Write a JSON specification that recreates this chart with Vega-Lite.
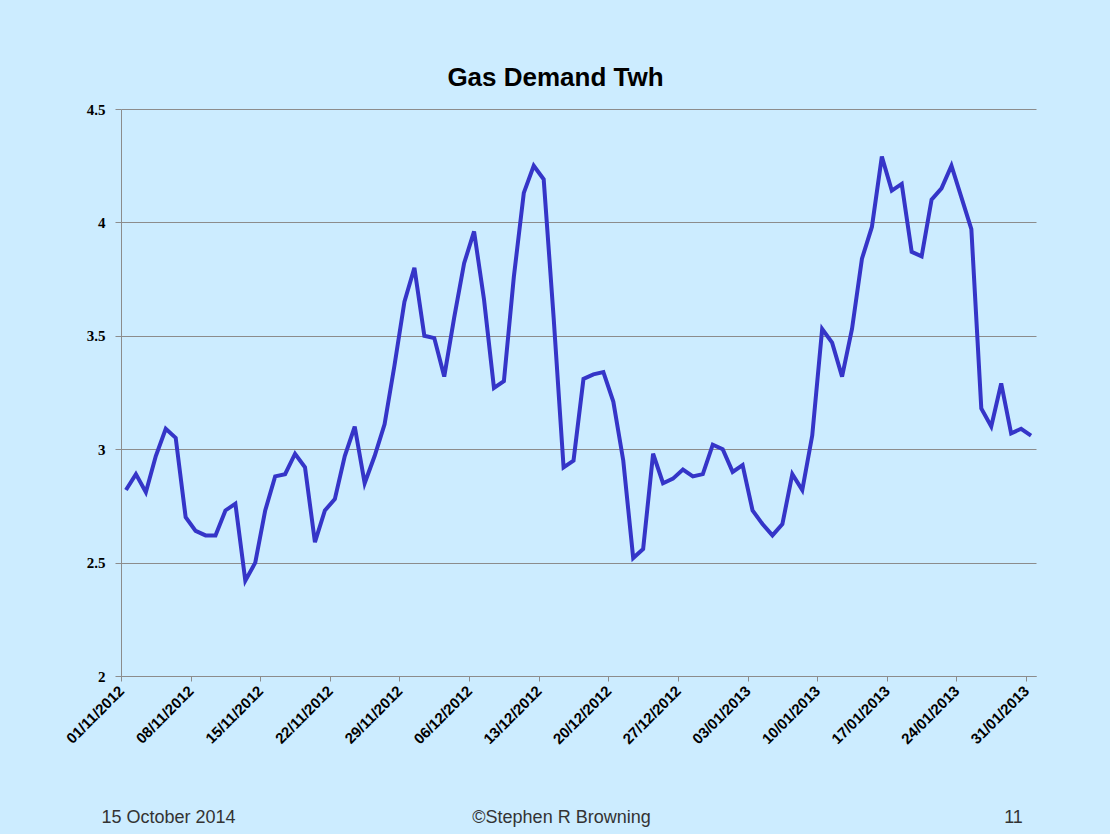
{
  "$schema": "https://vega.github.io/schema/vega-lite/v6.json",
  "width": 915,
  "height": 567,
  "autosize": {"type": "none"},
  "padding": {"left": 121, "top": 109, "right": 74, "bottom": 158},
  "background": "#CCECFF",
  "title": {
    "text": "Gas Demand Twh",
    "font": "Liberation Sans",
    "fontSize": 26,
    "fontWeight": "bold",
    "color": "#000000",
    "anchor": "middle",
    "frame": "group",
    "baseline": "alphabetic",
    "dx": -23,
    "offset": -10
  },
  "data": {
    "values": [
      {"date": "2012-11-01", "twh": 2.82}, {"date": "2012-11-02", "twh": 2.89}, {"date": "2012-11-03", "twh": 2.81},
      {"date": "2012-11-04", "twh": 2.97}, {"date": "2012-11-05", "twh": 3.09}, {"date": "2012-11-06", "twh": 3.05},
      {"date": "2012-11-07", "twh": 2.70}, {"date": "2012-11-08", "twh": 2.64}, {"date": "2012-11-09", "twh": 2.62},
      {"date": "2012-11-10", "twh": 2.62}, {"date": "2012-11-11", "twh": 2.73}, {"date": "2012-11-12", "twh": 2.76},
      {"date": "2012-11-13", "twh": 2.42}, {"date": "2012-11-14", "twh": 2.50}, {"date": "2012-11-15", "twh": 2.73},
      {"date": "2012-11-16", "twh": 2.88}, {"date": "2012-11-17", "twh": 2.89}, {"date": "2012-11-18", "twh": 2.98},
      {"date": "2012-11-19", "twh": 2.92}, {"date": "2012-11-20", "twh": 2.59}, {"date": "2012-11-21", "twh": 2.73},
      {"date": "2012-11-22", "twh": 2.78}, {"date": "2012-11-23", "twh": 2.97}, {"date": "2012-11-24", "twh": 3.10},
      {"date": "2012-11-25", "twh": 2.85}, {"date": "2012-11-26", "twh": 2.97}, {"date": "2012-11-27", "twh": 3.11},
      {"date": "2012-11-28", "twh": 3.37}, {"date": "2012-11-29", "twh": 3.65}, {"date": "2012-11-30", "twh": 3.80},
      {"date": "2012-12-01", "twh": 3.50}, {"date": "2012-12-02", "twh": 3.49}, {"date": "2012-12-03", "twh": 3.32},
      {"date": "2012-12-04", "twh": 3.58}, {"date": "2012-12-05", "twh": 3.82}, {"date": "2012-12-06", "twh": 3.96},
      {"date": "2012-12-07", "twh": 3.66}, {"date": "2012-12-08", "twh": 3.27}, {"date": "2012-12-09", "twh": 3.30},
      {"date": "2012-12-10", "twh": 3.76}, {"date": "2012-12-11", "twh": 4.13}, {"date": "2012-12-12", "twh": 4.25},
      {"date": "2012-12-13", "twh": 4.19}, {"date": "2012-12-14", "twh": 3.58}, {"date": "2012-12-15", "twh": 2.92},
      {"date": "2012-12-16", "twh": 2.95}, {"date": "2012-12-17", "twh": 3.31}, {"date": "2012-12-18", "twh": 3.33},
      {"date": "2012-12-19", "twh": 3.34}, {"date": "2012-12-20", "twh": 3.21}, {"date": "2012-12-21", "twh": 2.95},
      {"date": "2012-12-22", "twh": 2.52}, {"date": "2012-12-23", "twh": 2.56}, {"date": "2012-12-24", "twh": 2.98},
      {"date": "2012-12-25", "twh": 2.85}, {"date": "2012-12-26", "twh": 2.87}, {"date": "2012-12-27", "twh": 2.91},
      {"date": "2012-12-28", "twh": 2.88}, {"date": "2012-12-29", "twh": 2.89}, {"date": "2012-12-30", "twh": 3.02},
      {"date": "2012-12-31", "twh": 3.00}, {"date": "2013-01-01", "twh": 2.90}, {"date": "2013-01-02", "twh": 2.93},
      {"date": "2013-01-03", "twh": 2.73}, {"date": "2013-01-04", "twh": 2.67}, {"date": "2013-01-05", "twh": 2.62},
      {"date": "2013-01-06", "twh": 2.67}, {"date": "2013-01-07", "twh": 2.89}, {"date": "2013-01-08", "twh": 2.82},
      {"date": "2013-01-09", "twh": 3.06}, {"date": "2013-01-10", "twh": 3.53}, {"date": "2013-01-11", "twh": 3.47},
      {"date": "2013-01-12", "twh": 3.32}, {"date": "2013-01-13", "twh": 3.53}, {"date": "2013-01-14", "twh": 3.84},
      {"date": "2013-01-15", "twh": 3.98}, {"date": "2013-01-16", "twh": 4.29}, {"date": "2013-01-17", "twh": 4.14},
      {"date": "2013-01-18", "twh": 4.17}, {"date": "2013-01-19", "twh": 3.87}, {"date": "2013-01-20", "twh": 3.85},
      {"date": "2013-01-21", "twh": 4.10}, {"date": "2013-01-22", "twh": 4.15}, {"date": "2013-01-23", "twh": 4.25},
      {"date": "2013-01-24", "twh": 4.11}, {"date": "2013-01-25", "twh": 3.97}, {"date": "2013-01-26", "twh": 3.18},
      {"date": "2013-01-27", "twh": 3.10}, {"date": "2013-01-28", "twh": 3.29}, {"date": "2013-01-29", "twh": 3.07},
      {"date": "2013-01-30", "twh": 3.09}, {"date": "2013-01-31", "twh": 3.06}
    ]
  },
  "encoding": {
    "x": {
      "field": "date",
      "type": "temporal",
      "timeUnit": "utcyearmonthdate",
      "bandPosition": 0.5,
      "scale": {
        "type": "utc",
        "domain": [
          {"year": 2012, "month": 11, "date": 1, "utc": true},
          {"year": 2013, "month": 2, "date": 1, "utc": true}
        ]
      },
      "axis": {
        "values": [
          {"year": 2012, "month": 11, "date": 1, "utc": true},
          {"year": 2012, "month": 11, "date": 8, "utc": true},
          {"year": 2012, "month": 11, "date": 15, "utc": true},
          {"year": 2012, "month": 11, "date": 22, "utc": true},
          {"year": 2012, "month": 11, "date": 29, "utc": true},
          {"year": 2012, "month": 12, "date": 6, "utc": true},
          {"year": 2012, "month": 12, "date": 13, "utc": true},
          {"year": 2012, "month": 12, "date": 20, "utc": true},
          {"year": 2012, "month": 12, "date": 27, "utc": true},
          {"year": 2013, "month": 1, "date": 3, "utc": true},
          {"year": 2013, "month": 1, "date": 10, "utc": true},
          {"year": 2013, "month": 1, "date": 17, "utc": true},
          {"year": 2013, "month": 1, "date": 24, "utc": true},
          {"year": 2013, "month": 1, "date": 31, "utc": true}
        ],
        "labelExpr": "utcFormat(datum.value, '%d/%m/%Y')",
        "labelAngle": -45,
        "labelAlign": "right",
        "labelBaseline": "middle",
        "labelPadding": 7,
        "labelFont": "Liberation Sans",
        "labelFontSize": 15,
        "labelFontWeight": "bold",
        "labelColor": "#000000",
        "labelOverlap": false,
        "labelBound": false,
        "labelFlush": false,
        "domainColor": "#8c8c8c",
        "tickColor": "#8c8c8c",
        "tickSize": 5,
        "grid": false,
        "title": "©Stephen R Browning",
        "titleFont": "Liberation Sans",
        "titleFontSize": 18,
        "titleFontWeight": "normal",
        "titleColor": "#333333",
        "titleAlign": "center",
        "titleBaseline": "alphabetic",
        "titleAnchor": null,
        "titleX": 440,
        "titleY": 146
      }
    },
    "y": {
      "field": "twh",
      "type": "quantitative",
      "scale": {"domain": [2, 4.5], "nice": false, "zero": false}
    }
  },
  "layer": [
    {
      "mark": {"type": "line", "color": "#3535C8", "strokeWidth": 4, "strokeJoin": "miter", "strokeCap": "butt"},
      "encoding": {
        "y": {
          "field": "twh",
          "type": "quantitative",
          "axis": {
            "orient": "left",
            "values": [2, 2.5, 3, 3.5, 4, 4.5],
            "format": "~g",
            "labelFont": "Liberation Serif",
            "labelFontSize": 15,
            "labelFontWeight": "bold",
            "labelColor": "#000000",
            "labelPadding": 10,
            "tickSize": 6,
            "tickColor": "#8c8c8c",
            "domainColor": "#8c8c8c",
            "grid": true,
            "gridColor": "#8c8c8c",
            "gridWidth": 1,
            "gridOpacity": 1,
            "title": "15 October 2014",
            "titleFont": "Liberation Sans",
            "titleFontSize": 18,
            "titleFontWeight": "normal",
            "titleColor": "#333333",
            "titleAngle": 0,
            "titleAlign": "center",
            "titleBaseline": "alphabetic",
            "titleAnchor": null,
            "titleX": 47,
            "titleY": 713
          }
        }
      }
    },
    {
      "mark": {"type": "line", "strokeOpacity": 0, "color": "#3535C8"},
      "encoding": {
        "y": {
          "field": "twh",
          "type": "quantitative",
          "axis": {
            "orient": "right",
            "labels": false,
            "ticks": false,
            "domain": false,
            "grid": false,
            "title": "11",
            "titleFont": "Liberation Sans",
            "titleFontSize": 18,
            "titleFontWeight": "normal",
            "titleColor": "#333333",
            "titleAngle": 0,
            "titleAlign": "center",
            "titleBaseline": "alphabetic",
            "titleAnchor": null,
            "titleX": -23,
            "titleY": 713
          }
        }
      }
    }
  ],
  "resolve": {"axis": {"y": "independent"}},
  "config": {
    "view": {"stroke": null},
    "axis": {"domainWidth": 1, "tickWidth": 1}
  }
}
